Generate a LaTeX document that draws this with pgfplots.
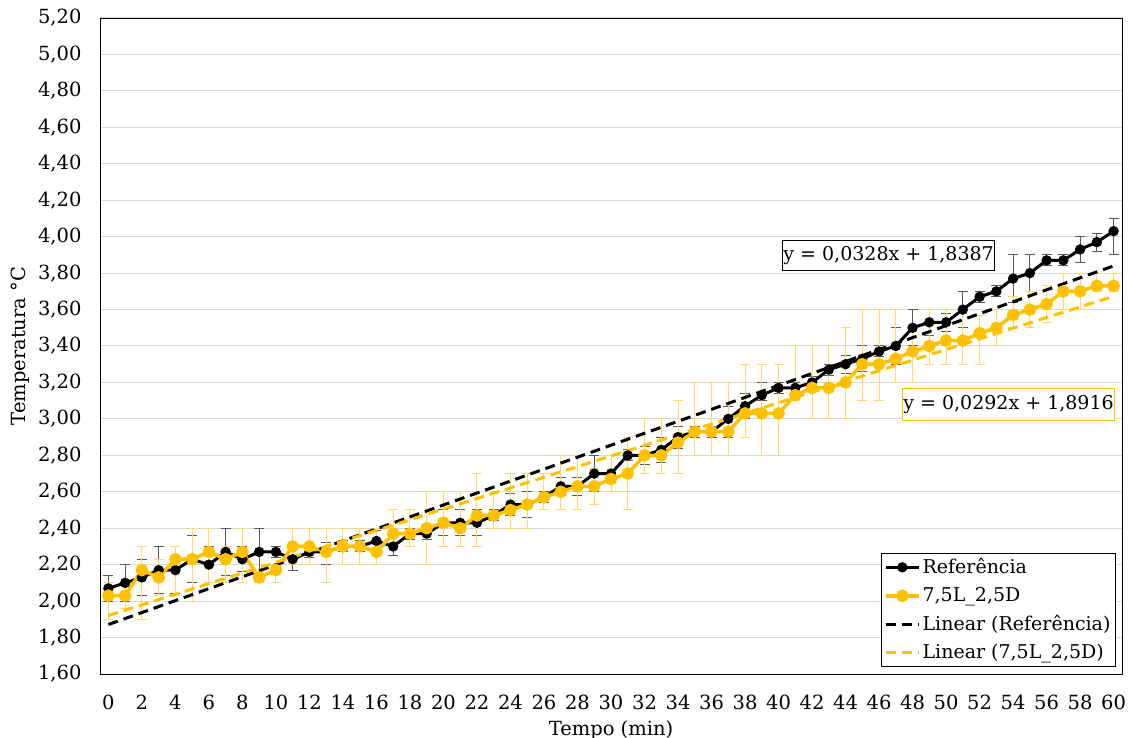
\documentclass[border=0pt]{standalone}
\usepackage{pgfplots}
\usepackage{pgfplotstable}
\pgfplotsset{compat=1.18}
\usepackage{fontspec}
\setmainfont{DejaVu Serif}
\definecolor{gold}{HTML}{FFC000}
\definecolor{lgold}{HTML}{FFD966}
\definecolor{gridc}{HTML}{D9D9D9}
\definecolor{ebk}{HTML}{595959}

\pgfplotstableread{
t y ep em
0 2.07 0.07 0.07
1 2.10 0.10 0.10
2 2.13 0.10 0.10
3 2.17 0.13 0.13
4 2.17 0.13 0.13
5 2.23 0.13 0.13
6 2.20 0.10 0.10
7 2.27 0.13 0.13
8 2.23 0.07 0.07
9 2.27 0.13 0.13
10 2.27 0.03 0.03
11 2.23 0.06 0.06
12 2.27 0.03 0.03
13 2.27 0.05 0.07
14 2.30 0.03 0.03
15 2.30 0.03 0.03
16 2.33 0.06 0.06
17 2.30 0.05 0.05
18 2.37 0.03 0.03
19 2.37 0.03 0.03
20 2.43 0.07 0.07
21 2.43 0.07 0.07
22 2.43 0.07 0.07
23 2.47 0.03 0.03
24 2.53 0.06 0.06
25 2.53 0.07 0.07
26 2.57 0.03 0.03
27 2.63 0.05 0.05
28 2.63 0.05 0.05
29 2.70 0.10 0.10
30 2.70 0.10 0.10
31 2.80 0.03 0.03
32 2.80 0.05 0.05
33 2.83 0.07 0.07
34 2.90 0.06 0.06
35 2.93 0.03 0.03
36 2.93 0.03 0.03
37 3.00 0.07 0.10
38 3.07 0.07 0.07
39 3.13 0.07 0.03
40 3.17 0.03 0.03
41 3.17 0.03 0.03
42 3.20 0.03 0.03
43 3.27 0.03 0.03
44 3.30 0.05 0.05
45 3.33 0.07 0.07
46 3.37 0.03 0.03
47 3.40 0.10 0.10
48 3.50 0.10 0.10
49 3.53 0.07 0.07
50 3.53 0.05 0.05
51 3.60 0.10 0.10
52 3.67 0.03 0.03
53 3.70 0.03 0.03
54 3.77 0.13 0.13
55 3.80 0.10 0.10
56 3.87 0.03 0.03
57 3.87 0.03 0.03
58 3.93 0.07 0.07
59 3.97 0.05 0.05
60 4.03 0.07 0.13
}\refdata

\pgfplotstableread{
t y ep em
0 2.03 0.07 0.13
1 2.03 0.07 0.07
2 2.17 0.13 0.27
3 2.13 0.10 0.10
4 2.23 0.07 0.20
5 2.23 0.17 0.23
6 2.27 0.13 0.17
7 2.23 0.07 0.13
8 2.27 0.13 0.17
9 2.13 0.03 0.03
10 2.17 0.03 0.07
11 2.30 0.10 0.10
12 2.30 0.10 0.10
13 2.27 0.13 0.17
14 2.30 0.10 0.10
15 2.30 0.10 0.10
16 2.27 0.13 0.07
17 2.37 0.13 0.07
18 2.37 0.13 0.07
19 2.40 0.20 0.20
20 2.43 0.17 0.13
21 2.40 0.20 0.10
22 2.47 0.23 0.17
23 2.47 0.13 0.07
24 2.50 0.20 0.10
25 2.53 0.17 0.13
26 2.57 0.13 0.07
27 2.60 0.20 0.10
28 2.63 0.17 0.13
29 2.63 0.10 0.10
30 2.67 0.13 0.07
31 2.70 0.20 0.20
32 2.80 0.20 0.10
33 2.80 0.20 0.10
34 2.87 0.23 0.17
35 2.93 0.27 0.13
36 2.93 0.27 0.13
37 2.93 0.27 0.13
38 3.03 0.27 0.13
39 3.03 0.27 0.23
40 3.03 0.27 0.23
41 3.13 0.27 0.03
42 3.17 0.23 0.17
43 3.17 0.23 0.17
44 3.20 0.30 0.20
45 3.30 0.30 0.20
46 3.30 0.30 0.20
47 3.33 0.27 0.13
48 3.37 0.13 0.17
49 3.40 0.20 0.10
50 3.43 0.17 0.13
51 3.43 0.17 0.13
52 3.47 0.10 0.17
53 3.50 0.10 0.10
54 3.57 0.10 0.07
55 3.60 0.10 0.10
56 3.63 0.10 0.10
57 3.70 0.10 0.10
58 3.70 0.10 0.10
59 3.73 0.07 0.03
60 3.73 0.07 0.03
}\ydata

\begin{document}
\fontsize{19bp}{23bp}\selectfont
\begin{tikzpicture}
\useasboundingbox (0,0) rectangle (1128bp,738bp);
\begin{axis}[
  at={(100bp,64bp)}, anchor=south west,
  scale only axis, width=1022bp, height=656bp,
  xmin=-0.5, xmax=60.5, ymin=1.6, ymax=5.2,
  xtick={0,2,...,60},
  ytick={1.6,1.8,2.0,2.2,2.4,2.6,2.8,3.0,3.2,3.4,3.6,3.8,4.0,4.2,4.4,4.6,4.8,5.0,5.2},
  major tick length=0pt,
  ymajorgrids, grid style={gridc, line width=1bp},
  axis line style={black, line width=0.8bp},
  /pgf/number format/assume math mode=true,
  yticklabel style={/pgf/number format/.cd, fixed, fixed zerofill, precision=2, use comma, /tikz/.cd, xshift=-12bp},
  xticklabel style={yshift=-14bp},
  ticklabel style={font=\fontsize{19.5bp}{23bp}\selectfont},
  xlabel={Tempo (min)}, ylabel={Temperatura °C},
  label style={font=\fontsize{19.5bp}{23bp}\selectfont},
  xlabel style={at={(axis description cs:0.5,-0.085)}, anchor=center},
  ylabel style={at={(axis description cs:-0.078,0.5)}, anchor=center},
  legend image code/.code={\draw[mark repeat=2,mark phase=2,#1] plot coordinates {(0bp,0bp) (16.5bp,0bp) (33bp,0bp)};},
  legend style={at={(0.994,0.0107)}, anchor=south east, draw=black, line width=0.8bp,
    font=\fontsize{19bp}{23bp}\selectfont, cells={anchor=west}, row sep=7bp, inner sep=3bp},
  clip=false,
]
\addplot[black, line width=3bp, mark=*, mark size=3.6bp,
  error bars/.cd, y dir=both, y explicit,
  error bar style={ebk, line width=1bp},
  error mark options={ebk, rotate=90, mark size=5bp, line width=1bp}]
  table[x=t, y=y, y error plus=ep, y error minus=em]{\refdata};
\addlegendentry{Referência}
\addplot[gold, line width=3.5bp, mark=*, mark size=4.5bp,
  error bars/.cd, y dir=both, y explicit,
  error bar style={lgold, line width=1bp},
  error mark options={lgold, rotate=90, mark size=5bp, line width=1bp}]
  table[x=t, y=y, y error plus=ep, y error minus=em]{\ydata};
\addlegendentry{7,5L\_2,5D}
\addplot[black, line width=3bp, dash pattern=on 10bp off 6bp] coordinates {(0,1.8715) (60,3.8395)};
\addlegendentry{Linear (Referência)}
\addplot[gold, line width=3bp, dash pattern=on 10bp off 6bp] coordinates {(0,1.9208) (60,3.6728)};
\addlegendentry{Linear (7,5L\_2,5D)}
\node[draw=black, fill=white, line width=0.8bp, minimum width=210bp, minimum height=30bp, inner sep=1bp,
  font=\fontsize{19bp}{22bp}\selectfont] at (axis cs:46.57,3.899) {y = 0,0328x + 1,8387};
\node[draw=gold, fill=white, line width=0.8bp, minimum width=210bp, minimum height=32bp, inner sep=1bp,
  font=\fontsize{19bp}{22bp}\selectfont] at (axis cs:53.73,3.081) {y = 0,0292x + 1,8916};
\end{axis}
\end{tikzpicture}
\end{document}
